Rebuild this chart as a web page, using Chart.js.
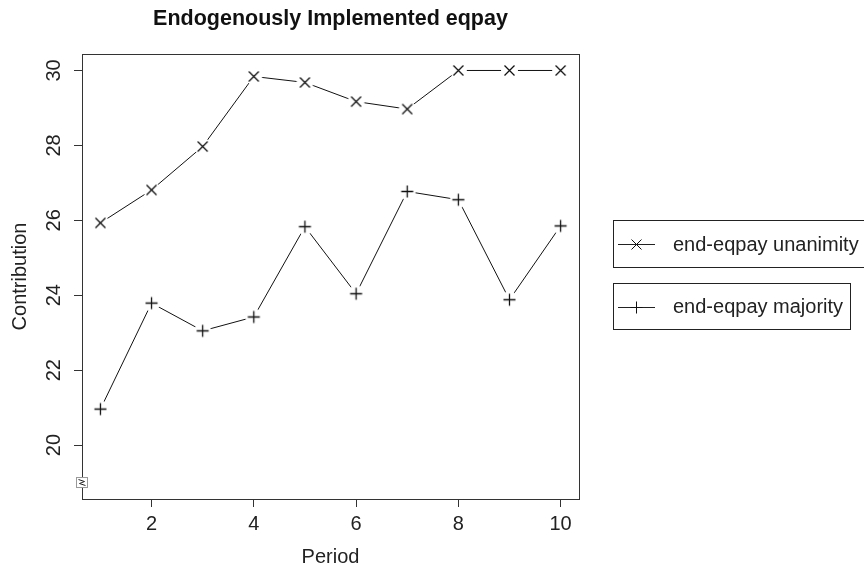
<!DOCTYPE html>
<html>
<head>
<meta charset="utf-8">
<title>Endogenously Implemented eqpay</title>
<script src="https://cdn.jsdelivr.net/npm/chart.js@4/dist/chart.umd.min.js"></script>
<style>
    html, body { margin: 0; padding: 0; background: #fff; }
    #chart { display: block; }
</style>
</head>
<body>
<canvas id="chart" width="864" height="569"></canvas>
<script>
const periods = [1, 2, 3, 4, 5, 6, 7, 8, 9, 10];
const unanimity = [25.93, 26.81, 27.97, 29.84, 29.68, 29.17, 28.97, 30, 30, 30];
const majority = [20.96, 23.79, 23.05, 23.42, 25.83, 24.04, 26.77, 26.55, 23.88, 25.85];
const seriesLabels = ['end-eqpay unanimity', 'end-eqpay majority'];
const xTicks = [2, 4, 6, 8, 10];
const yTicks = [20, 22, 24, 26, 28, 30];
const yBreak = 19;

const ink = '#222';
const fontFamily = '"Liberation Sans", Arial, Helvetica, sans-serif';

// R style type="b": marker with a white disc so the line stops short of it
function makeMarker(kind) {
    const c = document.createElement('canvas');
    c.width = 21;
    c.height = 21;
    const g = c.getContext('2d');
    g.fillStyle = '#fff';
    g.beginPath();
    g.arc(10.5, 10.5, 8.5, 0, Math.PI * 2);
    g.fill();
    drawGlyph(g, kind, 10.5, 10.5, '#111', 1.3);
    return c;
}

function drawGlyph(g, kind, x, y, color, width) {
    g.strokeStyle = color || ink;
    g.lineWidth = width || 1;
    g.beginPath();
    if (kind === 'x') {
        const r = 5;
        g.moveTo(x - r, y - r); g.lineTo(x + r, y + r);
        g.moveTo(x - r, y + r); g.lineTo(x + r, y - r);
    } else {
        const r = 6;
        g.moveTo(x - r, y); g.lineTo(x + r, y);
        g.moveTo(x, y - r); g.lineTo(x, y + r);
    }
    g.stroke();
}

const glyphKinds = ['x', '+'];

const decorations = {
    id: 'decorations',
    afterDraw(chart) {
        const ctx = chart.ctx;
        const area = chart.chartArea;
        const ys = chart.scales.y;
        ctx.save();

        // plot box
        ctx.strokeStyle = '#333';
        ctx.lineWidth = 1;
        ctx.strokeRect(Math.round(area.left) + 0.5, Math.round(area.top) + 0.5,
            Math.round(area.right - area.left), Math.round(area.bottom - area.top));

        // y tick labels, rotated like R's las=0
        ctx.fillStyle = ink;
        ctx.font = '20px ' + fontFamily;
        ctx.textAlign = 'center';
        ctx.textBaseline = 'middle';
        yTicks.forEach(v => {
            ctx.save();
            ctx.translate(54, ys.getPixelForValue(v));
            ctx.rotate(-Math.PI / 2);
            ctx.fillText(String(v), 0, 0);
            ctx.restore();
        });

        // axis break symbol
        const by = ys.getPixelForValue(yBreak);
        const bx = Math.round(area.left) + 0.5;
        ctx.fillStyle = '#fff';
        ctx.strokeStyle = '#999';
        ctx.fillRect(bx - 6, by - 5, 11, 10);
        ctx.strokeRect(bx - 6, by - 5, 11, 10);
        ctx.strokeStyle = ink;
        ctx.beginPath();
        ctx.moveTo(bx - 4, by - 3);
        ctx.lineTo(bx + 2, by - 1);
        ctx.lineTo(bx - 3, by + 1);
        ctx.lineTo(bx + 3, by + 3);
        ctx.stroke();

        // legend boxes
        const boxes = [
            { x: 613.5, y: 220.5, w: 262, h: 47 },
            { x: 613.5, y: 283.5, w: 237, h: 46 }
        ];
        chart.data.datasets.forEach((ds, i) => {
            const b = boxes[i];
            const cy = b.y + b.h / 2;
            ctx.strokeStyle = ink;
            ctx.lineWidth = 1;
            ctx.strokeRect(b.x, b.y, b.w, b.h);
            ctx.beginPath();
            ctx.moveTo(618, Math.round(cy) + 0.5);
            ctx.lineTo(655, Math.round(cy) + 0.5);
            ctx.stroke();
            drawGlyph(ctx, glyphKinds[i], 636.5, Math.round(cy) + 0.5, '#111', 1);
            ctx.fillStyle = ink;
            ctx.font = '20px ' + fontFamily;
            ctx.textAlign = 'left';
            ctx.textBaseline = 'middle';
            ctx.fillText(ds.label, 673, cy + 1);
        });

        ctx.restore();
    }
};

const ctx = document.getElementById('chart').getContext('2d');
new Chart(ctx, {
    type: 'line',
    data: {
        datasets: [
            {
                label: seriesLabels[0],
                data: periods.map((p, i) => ({ x: p, y: unanimity[i] })),
                borderColor: '#111',
                borderWidth: 1,
                pointStyle: makeMarker('x'),
                pointRadius: 10,
                tension: 0
            },
            {
                label: seriesLabels[1],
                data: periods.map((p, i) => ({ x: p, y: majority[i] })),
                borderColor: '#111',
                borderWidth: 1,
                pointStyle: makeMarker('+'),
                pointRadius: 10,
                tension: 0
            }
        ]
    },
    options: {
        responsive: false,
        animation: false,
        devicePixelRatio: 1,
        layout: { padding: { left: 0, right: 285, top: 0, bottom: 0 } },
        plugins: {
            legend: { display: false },
            tooltip: { enabled: false },
            title: {
                display: true,
                text: 'Endogenously Implemented eqpay',
                fullSize: false,
                color: '#111',
                font: { family: fontFamily, size: 21.5, weight: 'bold' },
                padding: { top: 6, bottom: 22.2 }
            }
        },
        scales: {
            x: {
                type: 'linear',
                min: 0.64,
                max: 10.36,
                afterBuildTicks: s => { s.ticks = xTicks.map(v => ({ value: v })); },
                afterFit: s => { s.height = 70; },
                grid: { drawOnChartArea: false, drawTicks: true, tickLength: 8, color: '#333' },
                border: { display: false },
                ticks: {
                    color: ink,
                    font: { family: fontFamily, size: 20 },
                    padding: 5,
                    maxRotation: 0,
                    autoSkip: false
                },
                title: {
                    display: true,
                    text: 'Period',
                    color: ink,
                    font: { family: fontFamily, size: 20 },
                    padding: { top: 0, bottom: 0 }
                }
            },
            y: {
                type: 'linear',
                min: 18.56,
                max: 30.44,
                afterBuildTicks: s => { s.ticks = yTicks.map(v => ({ value: v })); },
                afterFit: s => { s.width = 82; },
                grid: { drawOnChartArea: false, drawTicks: true, tickLength: 8, color: '#333' },
                border: { display: false },
                ticks: { display: false },
                title: {
                    display: true,
                    text: 'Contribution',
                    color: ink,
                    font: { family: fontFamily, size: 20 },
                    padding: { top: 8.5, bottom: 0 }
                }
            }
        }
    },
    plugins: [decorations]
});
</script>
</body>
</html>
